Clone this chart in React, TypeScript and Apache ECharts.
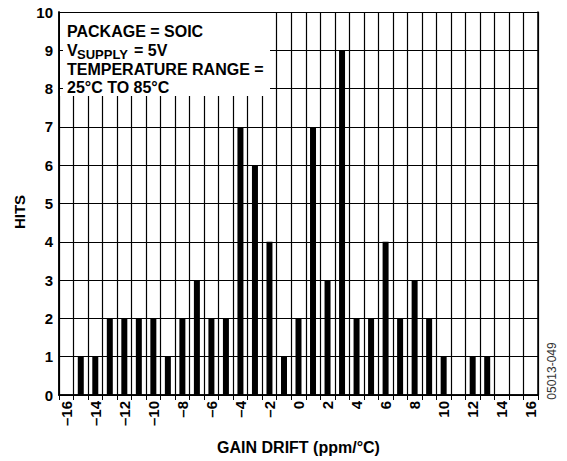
import React, { useEffect, useRef } from 'react';
import * as echarts from 'echarts';

const FONT = '"Liberation Sans", Arial, Helvetica, sans-serif';

const categories = [
  '-16', '-15', '-14', '-13', '-12', '-11', '-10', '-9', '-8', '-7', '-6',
  '-5', '-4', '-3', '-2', '-1', '0', '1', '2', '3', '4', '5', '6', '7', '8',
  '9', '10', '11', '12', '13', '14', '15', '16',
];
const hits = [
  0, 1, 1, 2, 2, 2, 2, 1, 2, 3, 2,
  2, 7, 6, 4, 1, 2, 7, 3, 9, 2, 2, 4, 2, 3,
  2, 1, 0, 1, 1, 0, 0, 0,
];
const yTicks = [0, 10, 1]; // min, max, interval
const xAxisName = 'GAIN DRIFT (ppm/°C)';
const yAxisName = 'HITS';
const noteLines = ['PACKAGE = SOIC', 'V', 'SUPPLY', '= 5V', 'TEMPERATURE RANGE =', '25°C TO 85°C'];
const figureId = '05013-049';

export default function App() {
  const ref = useRef<HTMLDivElement>(null);
  useEffect(() => {
    const chart = echarts.init(ref.current as HTMLDivElement, null, { renderer: 'svg' });
    const bold = { fontFamily: FONT, fontWeight: 'bold' as const, color: '#000' };
    const legendText = (text: string, x: number, y: number, size = 16) => ({
      type: 'text',
      x,
      y,
      z: 5,
      style: { text, fill: '#000', font: `bold ${size}px ${FONT}`, verticalAlign: 'middle', align: 'left' },
    });
    chart.setOption({
      animation: false,
      grid: { left: 59, right: 29, top: 12, bottom: 66, containLabel: false },
      xAxis: [
        {
          type: 'category',
          data: categories,
          position: 'bottom',
          boundaryGap: true,
          z: 0,
          axisLine: { show: true, lineStyle: { color: '#000', width: 1.5 } },
          axisTick: { show: false },
          axisLabel: {
            interval: 1,
            rotate: 90,
            margin: 6,
            fontSize: 15,
            ...bold,
            formatter: (v: string) => v.replace('-', '\u2013'),
          },
          splitLine: { show: true, interval: 0, lineStyle: { color: '#000', width: 1.2 } },
          name: xAxisName,
          nameLocation: 'middle',
          nameGap: 44,
          nameTextStyle: { fontSize: 16, ...bold },
        },
        {
          type: 'category',
          data: categories,
          position: 'top',
          boundaryGap: true,
          z: 3,
          axisLine: { show: true, lineStyle: { color: '#000', width: 1.5 } },
          axisTick: { show: true, inside: true, length: 5, interval: 0, lineStyle: { color: '#000', width: 1 } },
          axisLabel: { show: false },
          splitLine: { show: false },
        },
      ],
      yAxis: [
        {
          type: 'value',
          min: yTicks[0],
          max: yTicks[1],
          interval: yTicks[2],
          position: 'left',
          z: 0,
          axisLine: { show: true, lineStyle: { color: '#000', width: 1.5 } },
          axisTick: { show: false },
          axisLabel: { margin: 6, fontSize: 15, ...bold },
          splitLine: { show: true, lineStyle: { color: '#000', width: 1.2 } },
        },
        {
          type: 'value',
          min: yTicks[0],
          max: yTicks[1],
          interval: yTicks[2],
          position: 'left',
          offset: 0,
          z: 3,
          axisLine: { show: true, lineStyle: { color: '#000', width: 1.5 } },
          axisTick: { show: true, inside: true, length: 4, lineStyle: { color: '#000', width: 1 } },
          axisLabel: { show: false },
          splitLine: { show: false },
        },
        {
          type: 'value',
          min: yTicks[0],
          max: yTicks[1],
          interval: yTicks[2],
          position: 'right',
          offset: 0,
          z: 3,
          axisLine: { show: true, lineStyle: { color: '#000', width: 1.5 } },
          axisTick: { show: false },
          axisLabel: { show: false },
          splitLine: { show: false },
        },
      ],
      series: [
        {
          type: 'bar',
          data: hits,
          xAxisIndex: 0,
          yAxisIndex: 0,
          barWidth: 6,
          itemStyle: { color: '#000' },
          z: 2,
        },
      ],
      graphic: [
        {
          type: 'rect',
          shape: { x: 60, y: 13, width: 210, height: 83 },
          style: { fill: '#fff' },
          z: 1,
        },
        legendText(noteLines[0], 67, 31),
        legendText(noteLines[1], 67, 50),
        legendText(noteLines[2], 77, 54, 13),
        legendText(noteLines[3], 134, 50),
        legendText(noteLines[4], 67, 69.5),
        legendText(noteLines[5], 67, 87),
        {
          type: 'text',
          x: 19,
          y: 212,
          rotation: Math.PI / 2,
          style: { text: yAxisName, fill: '#000', font: `bold 15px ${FONT}`, align: 'center', verticalAlign: 'middle' },
        },
        {
          type: 'text',
          x: 552,
          y: 371,
          rotation: Math.PI / 2,
          style: { text: figureId, fill: '#333', font: `12px ${FONT}`, align: 'center', verticalAlign: 'middle' },
        },
      ],
    });
    return () => chart.dispose();
  }, []);
  return <div ref={ref} style={{ position: 'absolute', left: 0, top: 0, width: 567, height: 461 }} />;
}
